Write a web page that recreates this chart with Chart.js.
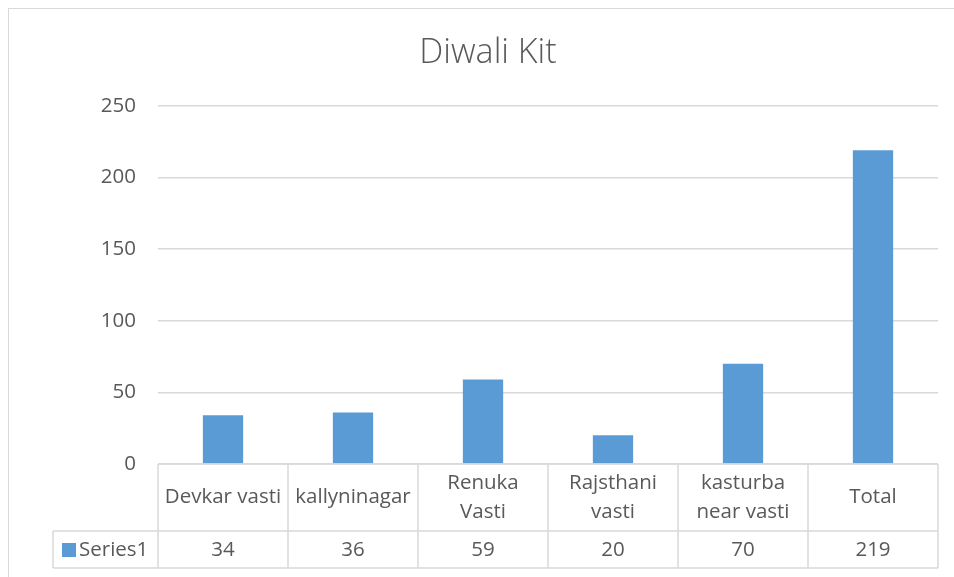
<!DOCTYPE html>
<html lang="en">
<head>
  <meta charset="UTF-8">
  <title>Diwali Kit</title>
  <script src="https://cdn.jsdelivr.net/npm/chart.js"></script>
  <style>
    html, body { margin: 0; padding: 0; background: #fff; }
    #wrap { position: relative; width: 954px; height: 577px; }
    #frame { position: absolute; left: 8px; top: 8px; width: 960px; height: 600px; border: 1px solid #D9D9D9; box-sizing: border-box; }
  </style>
</head>
<body>
  <div id="wrap">
    <div id="frame"></div>
    <canvas id="kitChart" width="954" height="577" style="position:absolute;left:0;top:0;"></canvas>
  </div>

  <script>
    // chart data
    const categories = ['Devkar vasti', 'kallyninagar', 'Renuka Vasti', 'Rajsthani vasti', 'kasturba near vasti', 'Total'];
    const tableLabels = [['Devkar vasti'], ['kallyninagar'], ['Renuka', 'Vasti'], ['Rajsthani', 'vasti'], ['kasturba', 'near vasti'], ['Total']];
    const seriesName = 'Series1';
    const seriesValues = [34, 36, 59, 20, 70, 219];
    const yTicks = [0, 50, 100, 150, 200, 250];

    const FONT = "'Open Sans', sans-serif";
    const TEXT = '#595959';
    const LINE = '#D9D9D9';
    const BLUE = '#5B9BD5';

    // Excel style data table drawn under the plot
    const dataTable = {
      id: 'dataTable',
      afterDraw(chart) {
        const ctx = chart.ctx;
        const xs = chart.scales.x;
        const area = chart.chartArea;
        const half = (xs.getPixelForValue(1) - xs.getPixelForValue(0)) / 2;
        const top = area.bottom;
        const mid = top + 67;
        const bot = top + 104;
        const leftRow2 = 53;

        ctx.save();
        ctx.strokeStyle = LINE;
        ctx.lineWidth = 1.5;
        ctx.beginPath();
        ctx.moveTo(area.left, top); ctx.lineTo(area.right, top);
        ctx.moveTo(leftRow2, mid); ctx.lineTo(area.right, mid);
        ctx.moveTo(leftRow2, bot); ctx.lineTo(area.right, bot);
        ctx.moveTo(leftRow2, mid); ctx.lineTo(leftRow2, bot);
        for (let i = 0; i <= categories.length; i++) {
          const x = Math.round(xs.getPixelForValue(i) - half);
          ctx.moveTo(x, top); ctx.lineTo(x, bot);
        }
        ctx.stroke();

        ctx.fillStyle = TEXT;
        ctx.font = '20.5px ' + FONT;
        ctx.textAlign = 'center';
        ctx.textBaseline = 'middle';
        categories.forEach((c, i) => {
          const cx = xs.getPixelForValue(i);
          const lines = tableLabels[i];
          const lh = 29;
          const y0 = (top + mid) / 2 - (lines.length - 1) * lh / 2;
          lines.forEach((t, j) => ctx.fillText(t, cx, y0 + j * lh));
          ctx.fillText(String(seriesValues[i]), cx, (mid + bot) / 2 + 1);
        });

        // legend key
        ctx.fillStyle = BLUE;
        ctx.fillRect(62, 543, 14, 14);
        ctx.fillStyle = TEXT;
        ctx.textAlign = 'left';
        ctx.fillText(seriesName, 79, (mid + bot) / 2 + 1);
        ctx.restore();
      }
    };

    new Chart(document.getElementById('kitChart'), {
      type: 'bar',
      data: {
        labels: categories,
        datasets: [{
          label: seriesName,
          data: seriesValues,
          backgroundColor: BLUE,
          categoryPercentage: 1,
          barPercentage: 0.31
        }]
      },
      plugins: [dataTable],
      options: {
        responsive: false,
        animation: false,
        layout: { padding: { left: 38, right: 16, top: 0, bottom: 113 } },
        plugins: {
          legend: { display: false },
          tooltip: { enabled: false },
          title: {
            display: true,
            text: 'Diwali Kit',
            color: TEXT,
            font: { family: FONT, size: 34, weight: '300' },
            padding: { top: 33, bottom: 32 }
          }
        },
        scales: {
          x: { display: false },
          y: {
            min: 0,
            max: 250,
            afterFit(scale) { scale.width = 120; },
            afterBuildTicks(scale) { scale.ticks = yTicks.map(v => ({ value: v })); },
            border: { display: false },
            grid: { color: LINE, lineWidth: 1.5, drawTicks: false },
            ticks: { color: TEXT, font: { family: FONT, size: 20.5 }, padding: 22 }
          }
        }
      }
    });
  </script>
</body>
</html>
